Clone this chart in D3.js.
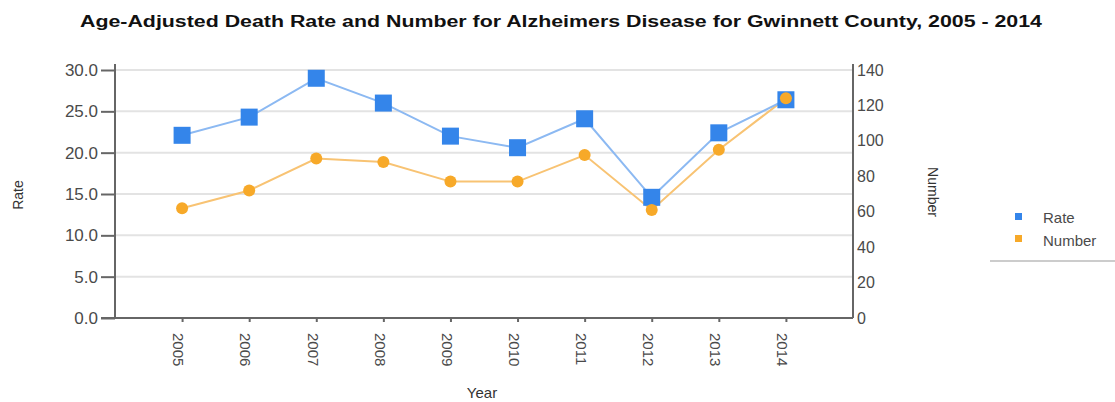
<!DOCTYPE html>
<html><head><meta charset="utf-8">
<script src="https://cdn.jsdelivr.net/npm/d3@7"></script>
<style>body{margin:0;background:#fff;}svg{display:block;font-family:"Liberation Sans",Arial,sans-serif;}</style>
</head><body>
<svg id="c" width="1115" height="402"></svg>
<script>
const years = ["2005","2006","2007","2008","2009","2010","2011","2012","2013","2014"];
const rateValues = [22.1, 24.3, 29.0, 26.0, 22.0, 20.6, 24.1, 14.6, 22.4, 26.4];
const numberValues = [62, 72, 90, 88, 77, 77, 92, 61, 95, 124];
const rateTicks = [0, 5, 10, 15, 20, 25, 30];
const numberTicks = [0, 20, 40, 60, 80, 100, 120, 140];
const titleText = "Age-Adjusted Death Rate and Number for Alzheimers Disease for Gwinnett County, 2005 - 2014";

const svg = d3.select("#c");
const L = 115, R = 853, T = 70, B = 318;
const x = d3.scalePoint().domain(years).range([L, R]).padding(1);
const yL = d3.scaleLinear().domain([0, 30]).range([B, T]);
const yR = d3.scaleLinear().domain([0, 140]).range([B, T]);

const rateLine = "#8cb9f2", rateMark = "#3485ea";
const numLine = "#f8c373", numMark = "#f7a929";
const axisCol = "#666";
const labelCol = "#4a4a4a";

svg.append("text").attr("x", 561).attr("y", 27).attr("text-anchor", "middle")
  .attr("font-weight", "bold").attr("font-size", 16).attr("fill", "#111")
  .attr("textLength", 962).attr("lengthAdjust", "spacingAndGlyphs").text(titleText);

// gridlines
svg.append("g").selectAll("line").data(rateTicks.slice(1)).join("line")
  .attr("x1", L).attr("x2", R).attr("y1", d => yL(d)).attr("y2", d => yL(d))
  .attr("stroke", "#e3e3e3").attr("stroke-width", 2);

// left axis
const gl = svg.append("g").attr("transform", `translate(${L},0)`)
  .call(d3.axisLeft(yL).tickValues(rateTicks).tickFormat(d3.format(".1f")).tickSize(14).tickPadding(3));
gl.select(".domain").attr("stroke", axisCol).attr("stroke-width", 2).attr("d", `M0,${B}V${T-6}`);
gl.selectAll(".tick line").attr("stroke", axisCol).attr("stroke-width", 2);
gl.selectAll(".tick text").attr("font-size", 17).attr("fill", labelCol).attr("font-family", "Liberation Sans, Arial, sans-serif");

// right axis
const gr = svg.append("g").attr("transform", `translate(${R},0)`)
  .call(d3.axisRight(yR).tickValues(numberTicks).tickSize(0).tickPadding(4));
gr.select(".domain").attr("stroke", axisCol).attr("stroke-width", 2).attr("d", `M0,${B}V${T-6}`);
gr.selectAll(".tick text").attr("font-size", 16).attr("fill", labelCol).attr("font-family", "Liberation Sans, Arial, sans-serif");

// bottom axis
const gb = svg.append("g").attr("transform", `translate(0,${B})`)
  .call(d3.axisBottom(x).tickSize(4).tickPadding(0));
gb.select(".domain").attr("stroke", axisCol).attr("stroke-width", 2).attr("d", `M${L-14},0H${R}`);
gb.selectAll(".tick line").attr("stroke", axisCol).attr("stroke-width", 2);
gb.selectAll(".tick text").attr("font-size", 15).attr("fill", labelCol)
  .attr("font-family", "Liberation Sans, Arial, sans-serif")
  .attr("text-anchor", "start").attr("dy", "0.35em")
  .attr("transform", "translate(0,15) rotate(90)");

// axis titles
svg.append("text").attr("transform", "translate(18,195) rotate(-90)").attr("text-anchor", "middle")
  .attr("dy", "0.35em").attr("font-size", 14).attr("fill", "#333").text("Rate");
svg.append("text").attr("transform", "translate(933,192) rotate(90)").attr("text-anchor", "middle")
  .attr("dy", "0.35em").attr("font-size", 14).attr("fill", "#333").text("Number");
svg.append("text").attr("x", 482).attr("y", 398).attr("text-anchor", "middle")
  .attr("font-size", 15).attr("fill", "#333").text("Year");

// lines
const rateData = years.map((y, i) => [y, rateValues[i]]);
const numData = years.map((y, i) => [y, numberValues[i]]);
svg.append("path").datum(numData).attr("fill", "none").attr("stroke", numLine).attr("stroke-width", 2)
  .attr("d", d3.line().x(d => x(d[0])).y(d => yR(d[1])));
svg.append("path").datum(rateData).attr("fill", "none").attr("stroke", rateLine).attr("stroke-width", 2)
  .attr("d", d3.line().x(d => x(d[0])).y(d => yL(d[1])));

// markers
const s = 17;
svg.append("g").selectAll("rect").data(rateData).join("rect")
  .attr("x", d => x(d[0]) - s/2).attr("y", d => yL(d[1]) - s/2).attr("width", s).attr("height", s)
  .attr("fill", rateMark);
svg.append("g").selectAll("circle").data(numData).join("circle")
  .attr("cx", d => x(d[0])).attr("cy", d => yR(d[1])).attr("r", 6).attr("fill", numMark);

// legend
const lg = svg.append("g");
lg.append("rect").attr("x", 1015).attr("y", 213).attr("width", 7).attr("height", 7).attr("fill", rateMark);
lg.append("text").attr("x", 1043).attr("y", 223).attr("font-size", 15).attr("fill", labelCol).text("Rate");
lg.append("rect").attr("x", 1015).attr("y", 235).attr("width", 7).attr("height", 7).attr("fill", numMark);
lg.append("text").attr("x", 1043).attr("y", 246).attr("font-size", 15).attr("fill", labelCol).text("Number");
lg.append("line").attr("x1", 990).attr("x2", 1115).attr("y1", 261).attr("y2", 261).attr("stroke", "#bbb").attr("stroke-width", 1.5);
</script>
</body></html>
